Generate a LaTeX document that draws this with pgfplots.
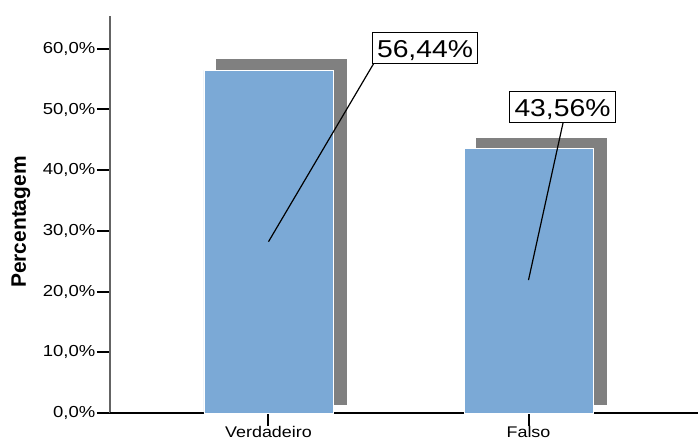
\documentclass[border=0pt]{standalone}
\usepackage{fontspec}
\setmainfont{Liberation Sans}
\newfontfamily\stretchfont[FakeStretch=1.16]{Liberation Sans}
\usepackage{pgfplots}
\pgfplotsset{compat=1.18}
\definecolor{barblue}{RGB}{123,169,214}
\definecolor{shadowgray}{RGB}{128,128,128}
\definecolor{axisgray}{RGB}{100,100,100}
\begin{document}
\begin{tikzpicture}
\useasboundingbox (-110bp,-28bp) rectangle (588bp,413bp);
\begin{axis}[
  at={(0,0)}, anchor=south west,
  scale only axis, width=588bp, height=397bp,
  xmin=0.3904, xmax=2.6519, ymin=0, ymax=65.4,
  axis lines*=left,
  x axis line style={draw=none},
  y axis line style={draw=axisgray, line width=2bp},
  xtick={1,2}, xticklabels={Verdadeiro,Falso},
  ytick={0,10,20,30,40,50,60},
  yticklabels={{0,0\%},{10,0\%},{20,0\%},{30,0\%},{40,0\%},{50,0\%},{60,0\%}},
  tick align=outside,
  major tick length=13bp,
  tick style={black, line width=2bp},
  /pgf/number format/assume math mode=true,
  yticklabel style={font=\stretchfont\fontsize{16}{18}\selectfont, inner sep=1.5bp},
  xticklabel style={font=\stretchfont\fontsize{15.5}{18}\selectfont, inner sep=0.5bp},
  ylabel={Percentagem},
  ylabel style={font=\bfseries\fontsize{21}{24}\selectfont, at={(axis description cs:-0.1514,0.481)}, anchor=center},
  clip=false,
]
\draw[black, line width=1.2bp] (axis cs:0.3904,0) -- (axis cs:2.6519,0);
\addplot[fill=shadowgray, draw=none] coordinates {(0.798,1.32) (1.3019,1.32) (1.3019,58.26) (0.798,58.26)} -- cycle;
\addplot[fill=shadowgray, draw=none] coordinates {(1.798,1.32) (2.3019,1.32) (2.3019,45.38) (1.798,45.38)} -- cycle;
\addplot[ybar, bar width=129bp, fill=barblue, draw=white, line width=0.8bp] coordinates {(1,56.44) (2,43.56)};
\addplot[black, line width=1.2bp] coordinates {(1,28.22) (1.4058,57.66)};
\addplot[black, line width=1.2bp] coordinates {(2,21.9) (2.1327,47.78)};
\node[draw=black, fill=white, line width=1bp, inner xsep=4.5bp, inner ysep=3bp, text height=22.3bp, text depth=2.7bp, font=\stretchfont\fontsize{24.5}{28}\selectfont] at (axis cs:1.602,60.2) {56,44\%};
\node[draw=black, fill=white, line width=1bp, inner xsep=4.5bp, inner ysep=3bp, text height=22.3bp, text depth=2.7bp, font=\stretchfont\fontsize{24.5}{28}\selectfont] at (axis cs:2.1308,50.41) {43,56\%};
\end{axis}
\end{tikzpicture}
\end{document}
